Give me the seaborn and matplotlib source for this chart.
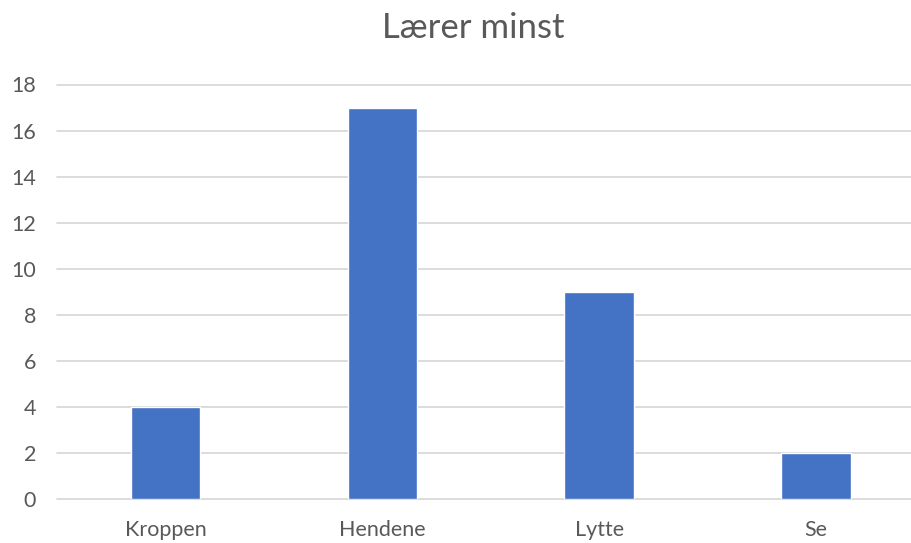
import matplotlib
matplotlib.use("Agg")
import matplotlib.pyplot as plt
import seaborn as sns
import pandas as pd

categories = ["Kroppen", "Hendene", "Lytte", "Se"]
values = [4, 17, 9, 2]
yticks = [0, 2, 4, 6, 8, 10, 12, 14, 16, 18]
title = "Lærer minst"

sns.set_theme(style="white")
plt.rcParams['font.family'] = ['Lato', 'DejaVu Sans']

df = pd.DataFrame({"cat": categories, "val": values})

fig = plt.figure(figsize=(9.12, 5.43), dpi=100)
ax = fig.add_axes([57/912, (543-499.3)/543, (924.5-57)/912, (499.3-84.5)/543])

sns.barplot(data=df, x="cat", y="val", color="#4472C4", width=0.32,
            saturation=1, ax=ax, zorder=3)

ax.set_xlim(-0.5, 3.5)
ax.set_ylim(0, 18)
ax.set_yticks(yticks)
for y in yticks:
    ax.axhline(y, color="#D9D9D9", lw=1.3, zorder=1, clip_on=False)
for s in ax.spines.values():
    s.set_visible(False)
ax.set_xlabel("")
ax.set_ylabel("")
ax.tick_params(axis="both", length=0, labelsize=15.5, colors="#595959")
ax.tick_params(axis="y", pad=15)
ax.tick_params(axis="x", pad=15)
fig.text(473/912, 1 - 28/543, title, ha="center", va="center", fontsize=25, color="#595959")

fig.savefig("out.png", dpi=100)
